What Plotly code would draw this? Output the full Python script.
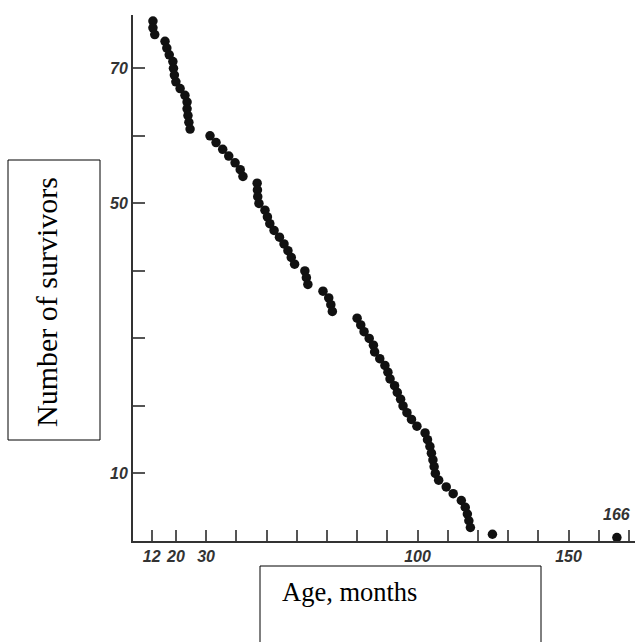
import plotly.graph_objects as go

# Survivors (count) and the age in months at which each dot sits
survivors = [78, 77, 76, 75, 74, 73, 72, 71, 70, 69, 68, 67, 66, 65, 64, 63, 62, 61,
             60, 59, 58, 57, 56, 55, 54, 53, 52, 51, 50, 49, 48, 47, 46, 45, 44, 43,
             42, 41, 40, 39, 38, 37, 36, 35, 34, 33, 32, 31, 30, 29, 28, 27, 26, 25,
             24, 23, 22, 21, 20, 19, 18, 17, 16, 15, 14, 13, 12, 11, 10, 9, 8, 7,
             6, 5, 4, 3, 2, 1, 0.5]
age_months = [12, 12.4, 12.4, 13, 16.4, 17, 17.8, 19, 19.2, 19.5, 20, 21.4, 23, 23.7, 23.7, 24, 24.3, 24.7,
              31.3, 33.3, 35.5, 37.5, 39.6, 41.3, 42.2, 46.9, 47, 47.1, 47.5, 49.5, 50.3, 51.1, 52.5, 54.3, 55.8, 57.1,
              58.2, 59.3, 62.7, 63.2, 63.7, 68.7, 70.6, 71.3, 71.8, 80, 81.2, 82.3, 84, 85.4, 85.8, 87.5, 89.2, 90.2,
              90.9, 92.4, 93.3, 94.4, 95.2, 96.5, 98, 99.8, 102.5, 103.3, 104.1, 104.6, 105.1, 105.5, 105.9, 107, 109.5, 111.8,
              114.5, 115.8, 116.5, 117, 117.5, 124.8, 166]

x_ticks = [12, 20, 30, 40, 50, 60, 70, 80, 90, 100, 110, 120, 130, 140, 150, 160, 170]
x_tick_labels = ["12", "20", "30", "", "", "", "", "", "", "100", "", "", "", "", "150", "", ""]
y_ticks = [10, 20, 30, 40, 50, 60, 70]
y_tick_labels = ["10", "", "", "", "50", "", "70"]

x_title = "Age, months"
y_title = "Number of survivors"

W, H = 635, 642
L, R, T, B = 133, 0, 15, 101
pw, ph = W - L - R, H - T - B

def px(x):
    return (x - L) / pw

def py(y):
    return (H - B - y) / ph

tickfont = dict(family="Liberation Sans Narrow, Liberation Sans, Arial", size=16, color="#333")

fig = go.Figure()
fig.add_trace(go.Scatter(
    x=age_months, y=survivors, mode="markers",
    marker=dict(size=9.5, color="#111"),
    showlegend=False, cliponaxis=False,
))

fig.update_layout(
    width=W, height=H,
    margin=dict(l=L, r=R, t=T, b=B),
    paper_bgcolor="white", plot_bgcolor="white",
    xaxis=dict(
        range=[5.8, 172], tickmode="array", tickvals=x_ticks,
        ticktext=[f"<b><i>{t}</i></b>" if t else "" for t in x_tick_labels],
        ticks="inside", ticklen=11, tickwidth=2, tickcolor="#555",
        showline=True, linecolor="#333", linewidth=2,
        showgrid=False, zeroline=False, tickfont=tickfont,
    ),
    yaxis=dict(
        range=[0, 77.9], tickmode="array", tickvals=y_ticks,
        ticktext=[f"<b><i>{t}</i></b>" if t else "" for t in y_tick_labels],
        ticks="inside", ticklen=12, tickwidth=2, tickcolor="#555",
        showline=True, linecolor="#333", linewidth=2,
        showgrid=False, zeroline=False, tickfont=tickfont,
    ),
)

fig.add_annotation(x=166, y=3.9, xref="x", yref="y", text="<b><i>166</i></b>",
                   showarrow=False, font=tickfont, xanchor="center", yanchor="middle")

# Y title box
fig.add_shape(type="rect", xref="paper", yref="paper",
              x0=px(8), x1=px(100), y0=py(440), y1=py(160),
              line=dict(color="black", width=1), fillcolor="white", layer="above")
fig.add_annotation(xref="paper", yref="paper", x=px(46), y=py(302), text=y_title,
                   textangle=-90, showarrow=False,
                   font=dict(family="Liberation Serif, Times New Roman", size=30, color="black"),
                   xanchor="center", yanchor="middle")

# X title box
fig.add_shape(type="rect", xref="paper", yref="paper",
              x0=px(260), x1=px(541), y0=py(660), y1=py(566),
              line=dict(color="black", width=1), fillcolor="white", layer="above")
fig.add_annotation(xref="paper", yref="paper", x=px(280), y=py(592), text=x_title,
                   showarrow=False,
                   font=dict(family="Liberation Serif, Times New Roman", size=26.5, color="black"),
                   xanchor="left", yanchor="middle")

fig.write_html("out.html", config={"displayModeBar": False},
               post_script="document.body.style.margin='0';")
